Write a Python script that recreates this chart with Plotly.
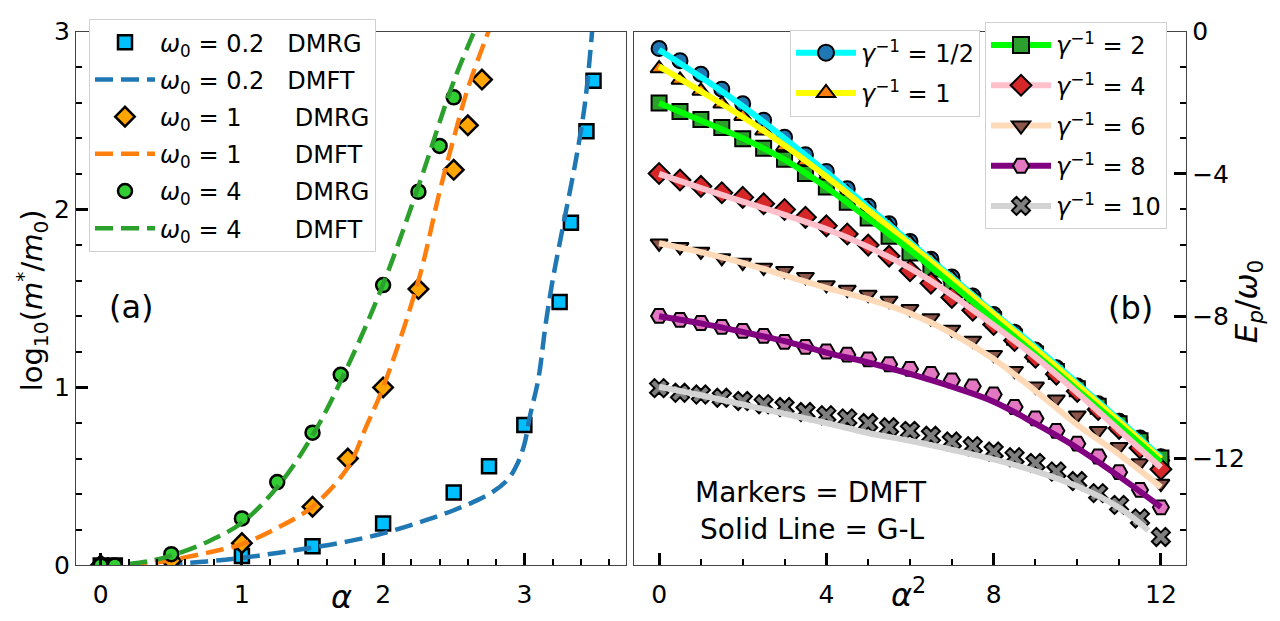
import plotly.graph_objects as go

W, H = 1280, 621
def px(x): return x / W
def py(y): return 1 - y / H

FONT = "DejaVu Sans"

# ---------------- Panel (a) data ----------------
a02_dmrg_x = [0, 0.1, 1.0, 1.5, 2.0, 2.5, 2.75, 3.0, 3.25, 3.33, 3.44, 3.49]
a02_dmrg_y = [0.0, 0.0, 0.053, 0.107, 0.236, 0.41, 0.557, 0.789, 1.48, 1.925, 2.44, 2.723]
a02_dmft_x = [0.45, 0.75, 1.0, 1.25, 1.5, 1.75, 2.0, 2.25, 2.5, 2.75, 2.88, 2.95, 3.0, 3.04,
              3.1, 3.15, 3.2, 3.28, 3.37, 3.43, 3.48]
a02_dmft_y = [0.005, 0.022, 0.042, 0.07, 0.1, 0.135, 0.18, 0.24, 0.31, 0.40, 0.48, 0.57, 0.68, 0.84,
              1.05, 1.35, 1.6, 1.93, 2.3, 2.6, 3.0]

a1_dmrg_x = [0, 0.5, 1.0, 1.5, 1.75, 2.0, 2.25, 2.5, 2.6, 2.7]
a1_dmrg_y = [0.0, 0.027, 0.125, 0.33, 0.60, 1.0, 1.553, 2.223, 2.473, 2.73]
a1_dmft_x = [0.2, 0.35, 0.5, 0.75, 1.0, 1.25, 1.5, 1.75, 1.88, 2.0, 2.25, 2.4, 2.5, 2.6, 2.77]
a1_dmft_y = [0.003, 0.012, 0.03, 0.07, 0.12, 0.21, 0.33, 0.55, 0.78, 1.0, 1.6, 2.1, 2.4, 2.68, 3.05]

a4_dmrg_x = [0, 0.1, 0.5, 1.0, 1.25, 1.5, 1.7, 2.0, 2.25, 2.4, 2.5]
a4_dmrg_y = [0.0, 0.0, 0.063, 0.264, 0.468, 0.746, 1.071, 1.575, 2.10, 2.357, 2.63]
a4_dmft_x = [0.2, 0.35, 0.5, 0.75, 1.0, 1.25, 1.5, 1.75, 2.0, 2.25, 2.5, 2.7]
a4_dmft_y = [0.008, 0.025, 0.055, 0.13, 0.24, 0.44, 0.73, 1.12, 1.58, 2.13, 2.72, 3.1]

a_xticks = [0, 1, 2, 3]
a_yticks = [0, 1, 2, 3]

# ---------------- Panel (b) data ----------------
b_x = [0, 0.5, 1, 1.5, 2, 2.5, 3, 3.5, 4, 4.5, 5, 5.5, 6, 6.5, 7, 7.5, 8, 8.5, 9, 9.5,
       10, 10.5, 11, 11.5, 12]
b_g05 = [-0.48, -0.82, -1.20, -1.62, -2.03, -2.49, -2.97, -3.46, -3.93, -4.42, -4.91, -5.40,
         -5.90, -6.40, -6.90, -7.43, -7.95, -8.45, -8.95, -9.45, -9.96, -10.46, -10.95, -11.42, -11.95]
b_g1 = [-1.04, -1.36, -1.67, -2.03, -2.38, -2.79, -3.23, -3.65, -4.08, -4.52, -4.98, -5.45,
        -5.93, -6.42, -6.92, -7.44, -7.96, -8.46, -8.96, -9.46, -9.97, -10.47, -10.96, -11.44, -11.96]
b_g2 = [-2.01, -2.25, -2.47, -2.70, -3.01, -3.28, -3.59, -3.99, -4.37, -4.80, -5.24, -5.75,
        -6.22, -6.67, -7.12, -7.60, -8.10, -8.59, -9.06, -9.55, -10.04, -10.53, -11.02, -11.50, -11.98]
b_g4 = [-3.99, -4.17, -4.35, -4.53, -4.66, -4.84, -5.00, -5.22, -5.46, -5.69, -6.00, -6.31,
        -6.72, -7.07, -7.47, -7.83, -8.23, -8.68, -9.15, -9.63, -10.11, -10.62, -11.15, -11.70, -12.30]
b_g6 = [-5.95, -6.05, -6.18, -6.36, -6.49, -6.63, -6.72, -6.89, -7.12, -7.25, -7.39, -7.56,
        -7.79, -8.05, -8.37, -8.68, -9.08, -9.53, -9.97, -10.33, -10.78, -11.22, -11.67, -12.12, -12.70]
b_g8 = [-7.99, -8.10, -8.19, -8.30, -8.41, -8.55, -8.72, -8.86, -8.99, -9.08, -9.21, -9.35,
        -9.48, -9.62, -9.80, -9.97, -10.20, -10.55, -10.87, -11.22, -11.58, -11.94, -12.38, -12.88, -13.37]
b_g10 = [-10.02, -10.15, -10.20, -10.29, -10.38, -10.47, -10.55, -10.69, -10.78, -10.87, -11.00, -11.12,
         -11.22, -11.36, -11.52, -11.65, -11.80, -11.96, -12.12, -12.36, -12.63, -12.97, -13.30, -13.68, -14.20]

# G-L solid lines
gl_x = [0, 1, 2, 3, 4, 5, 6, 7, 8, 9, 10, 11, 12]
gl_g05 = [-0.51, -1.28, -2.1, -3.0, -3.95, -4.93, -5.92, -6.9, -7.9, -8.86, -9.88, -10.91, -11.96]
gl_g1 = [-0.98, -1.68, -2.4, -3.2, -4.08, -5.02, -5.98, -6.95, -7.94, -8.92, -9.93, -10.96, -12.01]
gl_g2 = [-2.01, -2.5, -3.0, -3.6, -4.38, -5.25, -6.14, -7.1, -8.09, -9.07, -10.07, -11.07, -12.1]
gl_g4 = [-4.0, -4.4, -4.78, -5.15, -5.55, -6.05, -6.65, -7.4, -8.25, -9.15, -10.15, -11.2, -12.25]
gl_g6 = [-5.95, -6.2, -6.5, -6.85, -7.2, -7.52, -7.92, -8.48, -9.2, -10.1, -11.05, -11.88, -12.8]
gl_g8 = [-8.0, -8.2, -8.44, -8.7, -9.02, -9.3, -9.62, -9.98, -10.4, -11.02, -11.7, -12.5, -13.36]
gl_x10 = [0, 1, 2, 3, 4, 5, 6, 7, 8, 9, 10, 11, 11.7]
gl_g10 = [-9.98, -10.22, -10.48, -10.74, -11.0, -11.28, -11.5, -11.75, -12.02, -12.35, -12.78, -13.38, -14.02]

b_xticks = [0, 4, 8, 12]
b_yticks = [0, -4, -8, -12]
b_yticktext = ["0", "\u22124", "\u22128", "\u221212"]

fig = go.Figure()

DASH = "18px,8px"
NB = "\u00a0"

def w0(v):
    return f"<i>ω</i><sub>0</sub> = {v}"

# ---- panel (a) traces ----
a_traces = [
    dict(x=a02_dmrg_x, y=a02_dmrg_y, mode="markers", name=w0("0.2") + NB * 3 + "DMRG",
         marker=dict(symbol="square", size=14, color="#00BFFF", line=dict(color="black", width=2.5))),
    dict(x=a02_dmft_x, y=a02_dmft_y, mode="lines", name=w0("0.2") + NB * 3 + "DMFT",
         line=dict(color="#1f77b4", width=4.5, dash=DASH)),
    dict(x=a1_dmrg_x, y=a1_dmrg_y, mode="markers", name=w0("1") + NB * 7 + "DMRG",
         marker=dict(symbol="diamond", size=15, color="#FFA500", line=dict(color="black", width=2.5))),
    dict(x=a1_dmft_x, y=a1_dmft_y, mode="lines", name=w0("1") + NB * 7 + "DMFT",
         line=dict(color="#ff7f0e", width=4.5, dash=DASH)),
    dict(x=a4_dmrg_x, y=a4_dmrg_y, mode="markers", name=w0("4") + NB * 7 + "DMRG",
         marker=dict(symbol="circle", size=14, color="#32CD32", line=dict(color="black", width=2.5))),
    dict(x=a4_dmft_x, y=a4_dmft_y, mode="lines", name=w0("4") + NB * 7 + "DMFT",
         line=dict(color="#2ca02c", width=4.5, dash=DASH)),
]
for i, t in enumerate(a_traces):
    if t["mode"] == "lines":
        t["line_shape"] = "spline"
    fig.add_trace(go.Scatter(xaxis="x", yaxis="y", legend="legend", legendgroup=f"a{i}", **t))

# ---- panel (b) traces ----
series_b = [
    ("1/2", b_g05, gl_x, gl_g05, "#00FFFF", "circle", "#1f77b4", 15, "legend2"),
    ("1", b_g1, gl_x, gl_g1, "#FFFF00", "triangle-up", "#ff7f0e", 15, "legend2"),
    ("2", b_g2, gl_x, gl_g2, "#00FF00", "square", "#2ca02c", 15, "legend3"),
    ("4", b_g4, gl_x, gl_g4, "#FFC0CB", "diamond", "#d62728", 16, "legend3"),
    ("6", b_g6, gl_x, gl_g6, "#FFDAB9", "triangle-down", "#8c564b", 15, "legend3"),
    ("8", b_g8, gl_x, gl_g8, "#800080", "hexagon2", "#e377c2", 16, "legend3"),
    ("10", b_g10, gl_x10, gl_g10, "#D3D3D3", "x", "#7f7f7f", 16, "legend3"),
]
# markers first
for lab, my, lx, ly, lc, sym, mc, ms, leg in series_b:
    mk = dict(symbol=sym, size=ms, color=mc, line=dict(color="black", width=2))
    fig.add_trace(go.Scatter(x=b_x, y=my, mode="markers", xaxis="x2", yaxis="y2",
                             marker=mk, showlegend=False))
# then G-L lines
for lab, my, lx, ly, lc, sym, mc, ms, leg in series_b:
    fig.add_trace(go.Scatter(x=lx, y=ly, mode="lines", xaxis="x2", yaxis="y2",
                             line=dict(color=lc, width=6), line_shape="spline",
                             showlegend=False))
# legend entries (line + marker)
for i, (lab, my, lx, ly, lc, sym, mc, ms, leg) in enumerate(series_b):
    mk = dict(symbol=sym, size=16, color=mc, line=dict(color="black", width=2))
    fig.add_trace(go.Scatter(x=[None], y=[None], mode="lines+markers", xaxis="x2", yaxis="y2",
                             name=f"<i>γ</i><sup>\u22121</sup> = {lab}", legend=leg,
                             legendgroup=f"b{i}",
                             line=dict(color=lc, width=6), marker=mk))

AX_LINE = "#444444"
common_axis = dict(showline=True, linecolor=AX_LINE, linewidth=1.3, mirror=True,
                   showgrid=False, zeroline=False, ticks="inside", ticklen=12, tickwidth=3,
                   tickcolor="black", ticklabeloverflow="allow",
                   tickfont=dict(family=FONT, size=25, color="black"))
minor_a = dict(ticks="inside", ticklen=6, tickwidth=1.5, tickcolor="black")

leg_common = dict(xanchor="left", yanchor="top", bgcolor="white",
                  bordercolor="#d0d0d0", borderwidth=1, itemwidth=60,
                  font=dict(family=FONT, size=24, color="black"))

fig.update_layout(
    width=W, height=H,
    margin=dict(l=0, r=0, t=0, b=0),
    paper_bgcolor="white", plot_bgcolor="white",
    font=dict(family=FONT, color="black"),
    xaxis=dict(domain=[px(68), px(618)], range=[-0.175, 3.72], anchor="y",
               tickmode="array", tickvals=a_xticks, ticklabelstandoff=6,
               minor=dict(dtick=0.2, tick0=0, **minor_a), **common_axis),
    yaxis=dict(domain=[py(570), py(10)], range=[0, 3], anchor="x",
               tickmode="array", tickvals=a_yticks,
               minor=dict(dtick=0.2, tick0=0, **minor_a), **common_axis),
    xaxis2=dict(domain=[px(626), px(1178)], range=[-0.6, 12.6], anchor="y2",
                tickmode="array", tickvals=b_xticks, ticklabelstandoff=6,
                minor=dict(dtick=1, tick0=0, **minor_a), **common_axis),
    yaxis2=dict(domain=[py(570), py(10)], range=[-15, 0], anchor="x2", side="right",
                tickmode="array", tickvals=b_yticks, ticktext=b_yticktext,
                minor=dict(dtick=1, tick0=0, **minor_a), **common_axis),
    legend=dict(x=px(81), y=py(-3), tracegroupgap=3, **leg_common),
    legend2=dict(x=px(782), y=py(8), tracegroupgap=6, **leg_common),
    legend3=dict(x=px(977), y=py(0), tracegroupgap=6, **leg_common),
)

ann = [
    dict(text="<i>α</i>", x=px(333), y=py(603), size=32, angle=0),
    dict(text="<i>α</i><sup>2</sup>", x=px(900), y=py(599), size=32, angle=0),
    dict(text="log<sub>10</sub>(<i>m</i><sup>*</sup>/<i>m</i><sub>0</sub>)", x=px(24), y=py(292), size=29, angle=-90),
    dict(text="<i>E</i><sub><i>p</i></sub>/<i>ω</i><sub>0</sub>", x=px(1240), y=py(293), size=31, angle=-90),
    dict(text="(a)", x=px(123), y=py(299), size=32, angle=0),
    dict(text="(b)", x=px(1122), y=py(300), size=32, angle=0),
    dict(text="Markers = DMFT", x=px(803), y=py(494), size=28, angle=0),
    dict(text="Solid Line = G-L", x=px(804), y=py(532), size=28, angle=0),
]
for a in ann:
    fig.add_annotation(text=a["text"], x=a["x"], y=a["y"], xref="paper", yref="paper",
                       xanchor="center", yanchor="middle", showarrow=False,
                       textangle=a["angle"], font=dict(family=FONT, size=a["size"], color="black"))

fig.write_html("out.html")
